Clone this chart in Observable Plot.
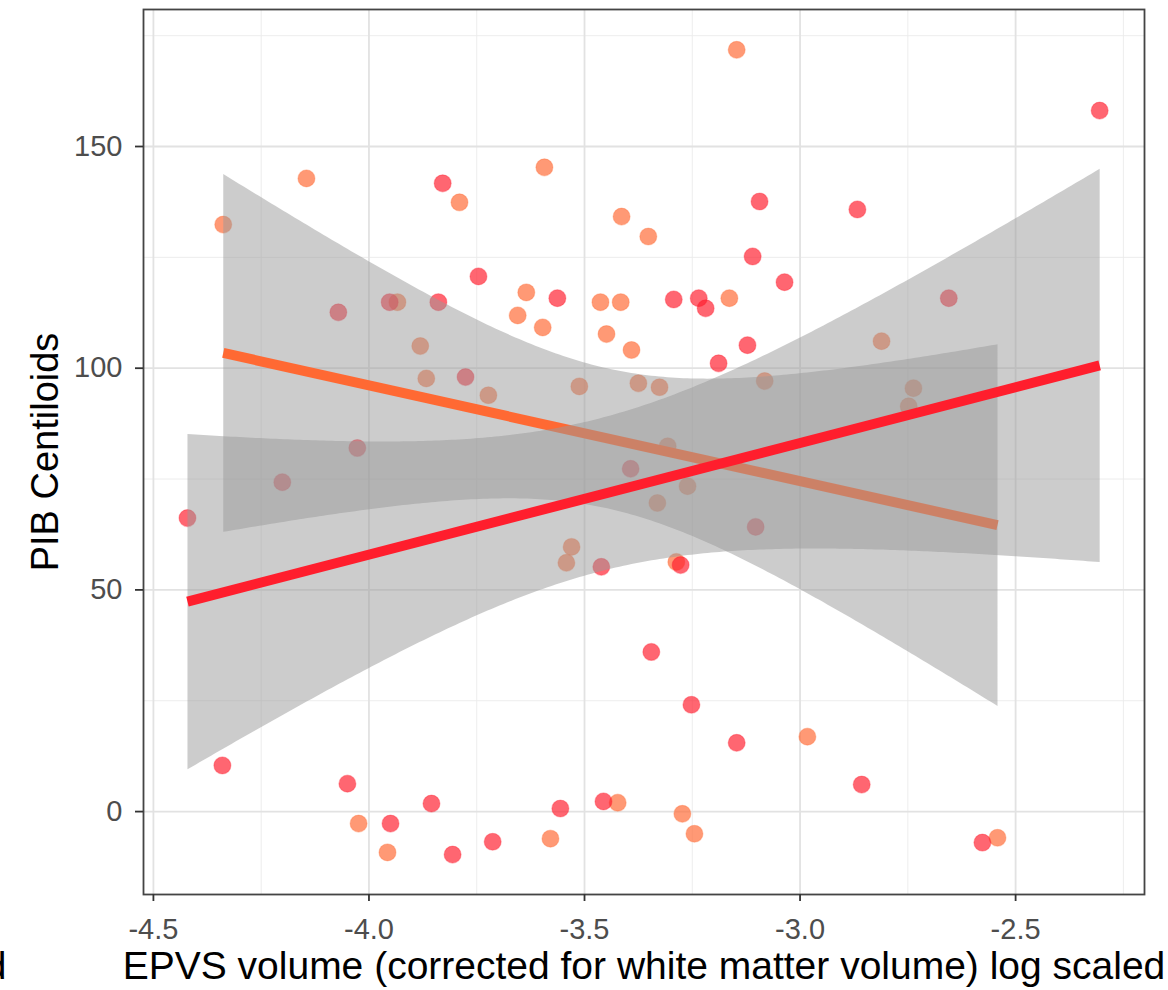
<!DOCTYPE html>
<html>
<head>
<meta charset="utf-8">
<script src="https://cdn.jsdelivr.net/npm/d3@7"></script>
<script src="https://cdn.jsdelivr.net/npm/@observablehq/plot@0.6"></script>
<style>
  html, body { margin: 0; padding: 0; background: #ffffff; }
  #chart svg { display: block; }
</style>
</head>
<body>
<div id="chart"></div>
<script>
// ---- data ----
const redX = [-2.305, -3.829, -3.094, -3.110, -2.867, -3.036, -2.655, -4.071, -3.952, -3.839,
              -3.746, -3.563, -3.293, -3.235, -3.219, -3.122, -3.189, -3.776, -4.027, -4.201,
              -4.421, -3.393, -3.103, -3.461, -3.277, -3.345, -3.252, -3.147, -4.340, -4.050,
              -3.950, -3.855, -3.806, -3.713, -3.556, -3.456, -2.857, -2.577];
const redY = [158.1, 141.7, 137.6, 125.2, 135.8, 119.4, 115.8, 112.6, 114.9, 114.9,
              120.7, 115.8, 115.5, 115.8, 113.5, 105.2, 101.1, 98.0, 82.0, 74.3,
              66.2, 77.3, 64.2, 55.2, 55.6, 36.0, 24.1, 15.5, 10.4, 6.3,
              -2.7, 1.8, -9.7, -6.8, 0.7, 2.3, 6.1, -7.0];
const orangeX = [-3.147, -4.145, -3.593, -4.338, -3.790, -3.414, -3.352, -3.934, -3.635, -3.655,
                 -3.597, -3.463, -3.416, -3.164, -3.449, -3.391, -2.811, -3.881, -3.867, -3.723,
                 -3.512, -3.375, -3.326, -3.082, -2.737, -2.748, -3.307, -3.261, -3.331, -3.530,
                 -3.542, -3.287, -4.024, -3.957, -3.579, -3.423, -3.273, -3.245, -2.983, -2.542];
const orangeY = [171.8, 142.8, 145.3, 132.4, 137.4, 134.2, 129.7, 114.9, 117.1, 111.9,
                 109.2, 114.9, 114.9, 115.8, 107.7, 104.1, 106.1, 105.0, 97.7, 93.9,
                 95.9, 96.6, 95.7, 97.1, 95.5, 91.4, 82.4, 73.4, 69.6, 59.7,
                 56.1, 56.3, -2.7, -9.2, -6.1, 2.0, -0.5, -5.0, 16.9, -5.9];

const xTicks = [-4.5, -4.0, -3.5, -3.0, -2.5];
const xMinor = [-4.25, -3.75, -3.25, -2.75, -2.25];
const yTicks = [0, 50, 100, 150];
const yMinor = [25, 75, 125, 175];
const xTitle = "EPVS volume (corrected for white matter volume) log scaled";
const yTitle = "PIB Centiloids";
const cutText = "d";

const redColor = "#FF1E2D";
const orangeColor = "#FF6933";

// ---- tables built from the arrays ----
const red = redX.map((x, i) => ({x, y: redY[i]}));
const orange = orangeX.map((x, i) => ({x, y: orangeY[i]}));

const font = "'Liberation Sans', Arial, Helvetica, sans-serif";

const chart = Plot.plot({
  width: 1168,
  height: 990,
  marginLeft: 143,
  marginRight: 24,
  marginTop: 9,
  marginBottom: 96,
  style: {fontFamily: font, background: "#ffffff"},
  x: {domain: [-4.523, -2.201]},
  y: {domain: [-18.7, 180.9]},
  marks: [
    // grid (theme_bw)
    Plot.ruleX(xMinor, {stroke: "#EBEBEB", strokeWidth: 0.9}),
    Plot.ruleY(yMinor, {stroke: "#EBEBEB", strokeWidth: 0.9}),
    Plot.ruleX(xTicks, {stroke: "#E2E2E2", strokeWidth: 1.8}),
    Plot.ruleY(yTicks, {stroke: "#E2E2E2", strokeWidth: 1.8}),
    // points
    Plot.dot(orange, {x: "x", y: "y", r: 8.5, fill: orangeColor, fillOpacity: 0.68,
                      stroke: orangeColor, strokeOpacity: 0.3, strokeWidth: 1.2}),
    Plot.dot(red, {x: "x", y: "y", r: 8.5, fill: redColor, fillOpacity: 0.68,
                   stroke: redColor, strokeOpacity: 0.3, strokeWidth: 1.2}),
    // smooths (lm with 95% CI)
    Plot.linearRegressionY(orange, {x: "x", y: "y", stroke: orangeColor, fill: "#999999",
                                    fillOpacity: 0.5, strokeWidth: 10, strokeLinecap: "butt", ci: 0.95}),
    Plot.linearRegressionY(red, {x: "x", y: "y", stroke: redColor, fill: "#999999",
                                 fillOpacity: 0.5, strokeWidth: 10, strokeLinecap: "butt", ci: 0.95}),
    // panel border
    Plot.frame({stroke: "#444444", strokeWidth: 1.8}),
    // axes
    Plot.axisX(xTicks, {tickFormat: d => d.toFixed(1), tickSize: 7, tickPadding: 17,
                        fontSize: 29, stroke: "#333333", strokeWidth: 1.8, fill: "#4D4D4D", label: null}),
    Plot.axisY(yTicks, {tickFormat: d => String(d), tickSize: 8, tickPadding: 13,
                        fontSize: 29, stroke: "#333333", strokeWidth: 1.8, fill: "#4D4D4D", label: null}),
    // axis titles
    Plot.text([xTitle], {frameAnchor: "bottom", lineAnchor: "middle", textAnchor: "middle", dy: 72,
                         fontSize: 39, fill: "#000000"}),
    Plot.text([yTitle], {frameAnchor: "left", lineAnchor: "middle", textAnchor: "middle", dx: -98,
                         rotate: -90, fontSize: 38, fill: "#000000"}),
    Plot.text([cutText], {frameAnchor: "bottom-left", lineAnchor: "middle", dx: -137, dy: 72, textAnchor: "end",
                          fontSize: 39, fill: "#000000"})
  ]
});

document.getElementById("chart").appendChild(chart);
</script>
</body>
</html>
